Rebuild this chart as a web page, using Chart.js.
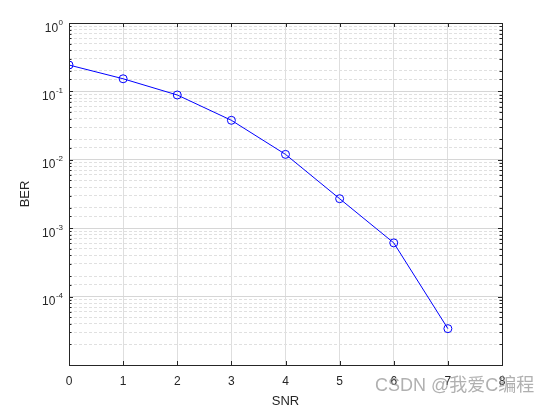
<!DOCTYPE html>
<html>
<head>
<meta charset="utf-8">
<title>BER vs SNR</title>
<script src="https://cdn.jsdelivr.net/npm/chart.js@4.4.1/dist/chart.umd.min.js"></script>
<style>
    body { margin: 0; background: #fff; }
    #wrap { position: relative; width: 549px; height: 408px; }
    #mark {
        position: absolute; left: 375px; top: 376px;
        font: 18px/18px "Liberation Sans", "Noto Sans CJK SC", sans-serif;
        color: rgba(150, 150, 150, 0.75); pointer-events: none; white-space: nowrap;
    }
</style>
</head>
<body>
<div id="wrap">
    <canvas id="myChart" width="549" height="408"></canvas>
    <div id="mark">CSDN @我爱C编程</div>
</div>
<script>
// data
const snrValues = [0, 1, 2, 3, 4, 5, 6, 7];
const berValues = [0.243, 0.153, 0.0886, 0.0378, 0.0120, 0.0027, 0.00061, 0.000034];
const xTickValues = [0, 1, 2, 3, 4, 5, 6, 7, 8];
const yTickExponents = [0, -1, -2, -3, -4];

const axisColor = '#262626';

//to check if a log tick sits on a power of ten
function isDecade(v) {
    const l = Math.log10(v);
    return Math.abs(l - Math.round(l)) < 1e-6;
}

// box, inward tick marks and 10^n labels like matlab
const matlabAxes = {
    id: 'matlabAxes',
    afterDraw(chart) {
        const ctx = chart.ctx;
        const area = chart.chartArea;
        const xs = chart.scales.x;
        const ys = chart.scales.y;
        ctx.save();
        ctx.strokeStyle = axisColor;
        ctx.lineWidth = 1;

        // tick marks on all 4 sides
        ctx.beginPath();
        xTickValues.forEach(v => {
            const px = Math.round(xs.getPixelForValue(v)) + 0.5;
            ctx.moveTo(px, area.bottom); ctx.lineTo(px, area.bottom - 4);
            ctx.moveTo(px, area.top); ctx.lineTo(px, area.top + 4);
        });
        ys.ticks.forEach(t => {
            const len = isDecade(t.value) ? 4 : 2.5;
            const py = Math.round(ys.getPixelForValue(t.value)) + 0.5;
            ctx.moveTo(area.left, py); ctx.lineTo(area.left + len, py);
            ctx.moveTo(area.right, py); ctx.lineTo(area.right - len, py);
        });
        ctx.stroke();

        // the box
        ctx.strokeRect(Math.round(area.left) + 0.5, Math.round(area.top) + 0.5,
            Math.round(area.right - area.left), Math.round(area.bottom - area.top));

        // y labels as 10 with a raised exponent
        ctx.fillStyle = axisColor;
        ctx.textBaseline = 'alphabetic';
        yTickExponents.forEach(e => {
            const py = ys.getPixelForValue(Math.pow(10, e));
            const base = '10';
            const sup = String(e);
            ctx.font = '12px "Liberation Sans", Arial, sans-serif';
            const wb = ctx.measureText(base).width;
            ctx.font = '8px "Liberation Sans", Arial, sans-serif';
            const ws = ctx.measureText(sup).width;
            const right = area.left - 6;
            ctx.textAlign = 'left';
            ctx.fillText(sup, right - ws, py + 1.5);
            ctx.font = '12px "Liberation Sans", Arial, sans-serif';
            ctx.fillText(base, right - ws - wb - 0.5, py + 8.5);
        });
        ctx.restore();
    }
};

const ctx = document.getElementById('myChart');
const chart = new Chart(ctx, {
    type: 'line',
    data: {
        datasets: [{
            label: 'BER',
            data: snrValues.map((s, i) => ({ x: s, y: berValues[i] })),
            borderColor: '#0000ff',
            borderWidth: 1,
            backgroundColor: 'rgba(0,0,0,0)',
            pointStyle: 'circle',
            pointRadius: 4,
            pointBorderWidth: 1,
            pointBorderColor: '#0000ff',
            pointBackgroundColor: 'rgba(0,0,0,0)',
            tension: 0
        }]
    },
    options: {
        responsive: false,
        animation: false,
        events: [],
        layout: { padding: { left: 0, top: 23, right: 47, bottom: 0 } },
        plugins: {
            legend: { display: false },
            tooltip: { enabled: false }
        },
        scales: {
            x: {
                type: 'linear',
                min: 0,
                max: 8,
                afterBuildTicks: s => { s.ticks = xTickValues.map(v => ({ value: v })); },
                afterFit: s => { s.height = 43; },
                ticks: {
                    color: axisColor,
                    padding: 9,
                    maxRotation: 0,
                    font: { family: '"Liberation Sans", Arial, sans-serif', size: 12 }
                },
                grid: { color: '#dedede', lineWidth: 1, drawTicks: false },
                border: { display: false },
                title: {
                    display: true,
                    text: 'SNR',
                    color: axisColor,
                    padding: { top: 0, bottom: 0 },
                    font: { family: '"Liberation Sans", Arial, sans-serif', size: 13, lineHeight: 1 }
                }
            },
            y: {
                type: 'logarithmic',
                min: 1e-5,
                max: 1,
                afterFit: s => { s.width = 69; },
                ticks: {
                    autoSkip: false,
                    callback: () => '',
                    padding: 0
                },
                grid: {
                    drawTicks: false,
                    color: c => isDecade(c.tick.value) ? '#d6d6d6' : '#e0e0e0',
                    lineWidth: 1
                },
                border: {
                    display: false,
                    dash: c => (c.tick && isDecade(c.tick.value)) ? [] : [3, 2]
                },
                title: {
                    display: true,
                    text: 'BER',
                    color: axisColor,
                    padding: { top: 19, bottom: 0 },
                    font: { family: '"Liberation Sans", Arial, sans-serif', size: 13, lineHeight: 1 }
                }
            }
        }
    },
    plugins: [matlabAxes]
});
</script>
</body>
</html>
